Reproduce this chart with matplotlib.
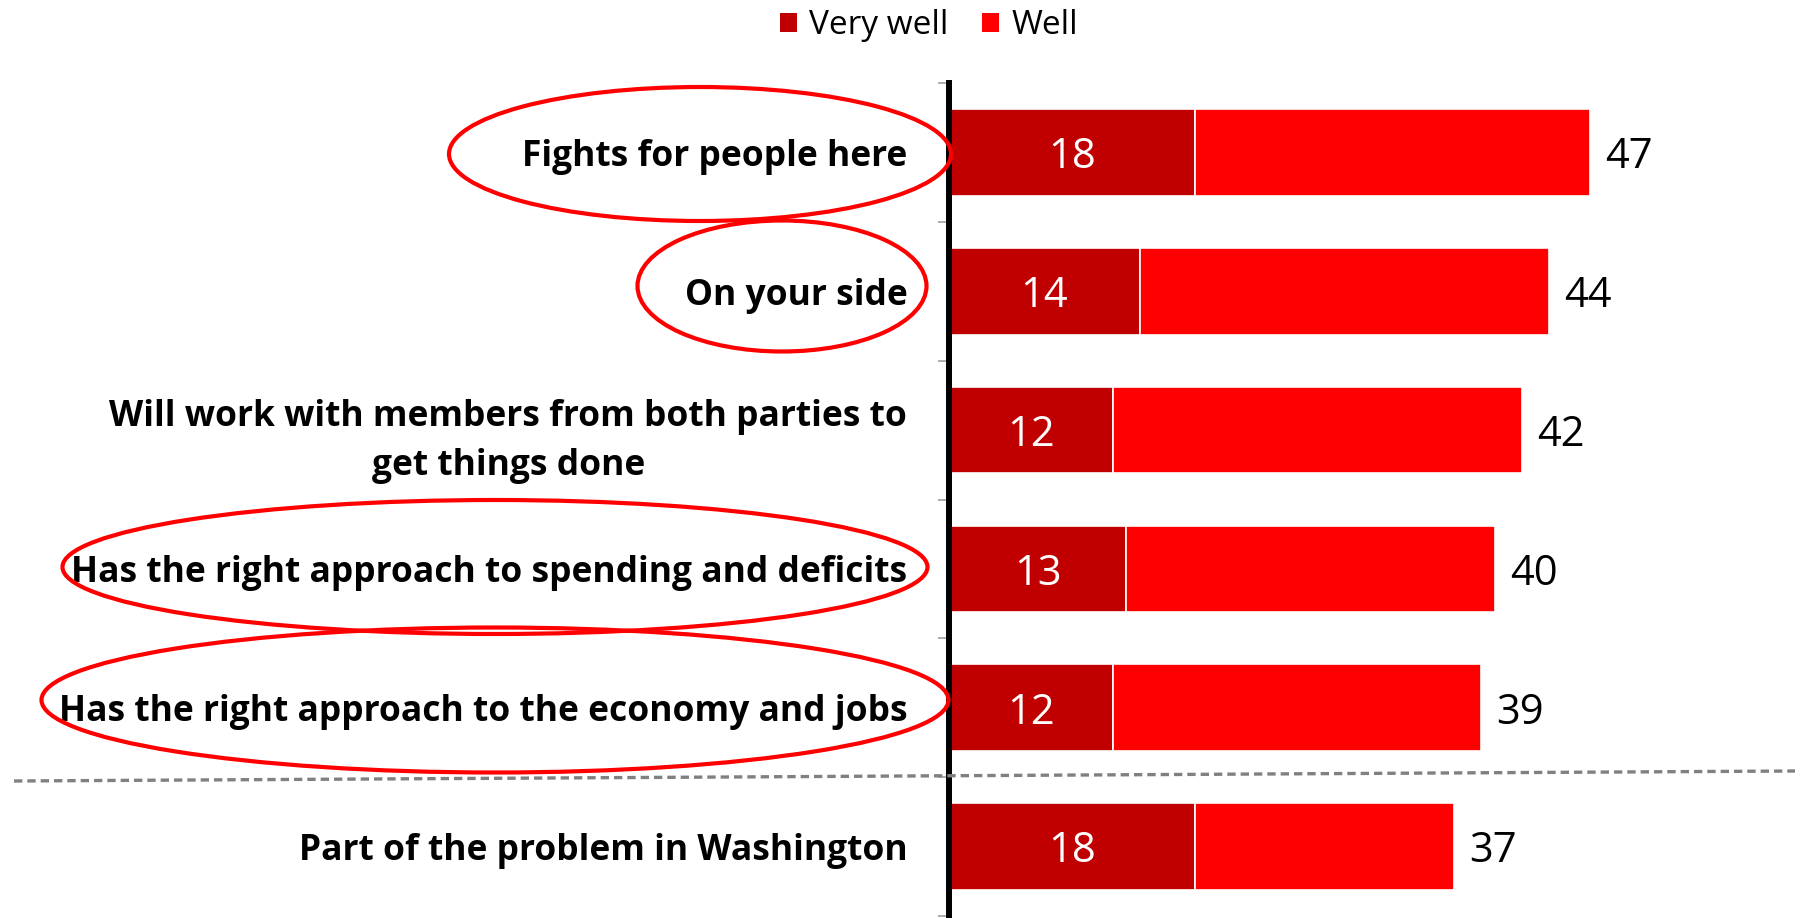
import numpy as np
import matplotlib
matplotlib.use('Agg')
import matplotlib.pyplot as plt
from matplotlib.patches import Ellipse, Patch
from matplotlib.lines import Line2D

categories = [
    'Fights for people here',
    'On your side',
    'Will work with members from both parties to\nget things done',
    'Has the right approach to spending and deficits',
    'Has the right approach to the economy and jobs',
    'Part of the problem in Washington',
]
very_well = [18, 14, 12, 13, 12, 18]
total = [47, 44, 42, 40, 39, 37]
well = [t - v for t, v in zip(total, very_well)]

DARK = '#C00000'
RED = '#FF0000'
plt.rcParams['font.family'] = ['Open Sans', 'DejaVu Sans']

W, H = 1805, 918
fig = plt.figure(figsize=(W / 100, H / 100), dpi=100)

# axes placed in pixel terms
ax_left, ax_right, ax_top, ax_bot = 949, 1795, 83, 916
ax = fig.add_axes([ax_left / W, (H - ax_bot) / H,
                   (ax_right - ax_left) / W, (ax_bot - ax_top) / H])

y = np.arange(len(categories))
ax.barh(y, very_well, height=0.625, color=DARK, edgecolor='white', linewidth=1.2)
ax.barh(y, well, left=very_well, height=0.625, color=RED, edgecolor='white', linewidth=1.2)

ax.set_xlim(0, 62)
ax.set_ylim(len(categories) - 0.5, -0.5)

for yi, v, t in zip(y, very_well, total):
    ax.text(v / 2, yi + 0.035, str(v), color='white', fontsize=30, ha='center', va='center')
    ax.text(t + 1.1, yi + 0.035, str(t), color='black', fontsize=30, ha='left', va='center')

ax.set_yticks(y)
ax.set_yticklabels(categories, fontsize=25.5, fontweight='bold', linespacing=1.5)
ax.get_yticklabels()[2].set_multialignment('center')
ax.tick_params(axis='y', which='major', length=0, pad=30)
ax.set_yticks(np.arange(len(categories) + 1) - 0.5, minor=True)
ax.tick_params(axis='y', which='minor', length=8, color='#A0A0A0', width=1.2)
ax.set_xticks([])
for s in ['top', 'right', 'bottom']:
    ax.spines[s].set_visible(False)
ax.spines['left'].set_linewidth(4.3)
ax.spines['left'].set_color('black')

# legend
handles = [Patch(facecolor=DARK, label='Very well'), Patch(facecolor=RED, label='Well')]
fig.legend(handles=handles, loc='center', bbox_to_anchor=(0.5147, 1 - 26 / H), ncol=2,
           frameon=False, fontsize=24, handlelength=0.5, handleheight=0.5,
           handletextpad=0.38, columnspacing=1.0)

# dashed separator
px = lambda x, yy: ((x) / 100, (H - yy) / 100)
x0, y0 = px(14, 781)
x1, y1 = px(1795, 771)
fig.add_artist(Line2D([x0, x1], [y0, y1], transform=fig.dpi_scale_trans,
                      color='#808080', linewidth=2.4, linestyle=(0, (2.5, 1.5))))

# highlight ellipses
ellipses = [(700, 154, 502, 134), (782, 286, 289, 131),
            (495, 567, 865, 134), (495, 700, 907, 145)]
for cx, cy, ew, eh in ellipses:
    c = px(cx, cy)
    fig.add_artist(Ellipse(c, ew / 100, eh / 100, transform=fig.dpi_scale_trans,
                           fill=False, edgecolor=RED, linewidth=3))

fig.savefig('out.png', dpi=100)
